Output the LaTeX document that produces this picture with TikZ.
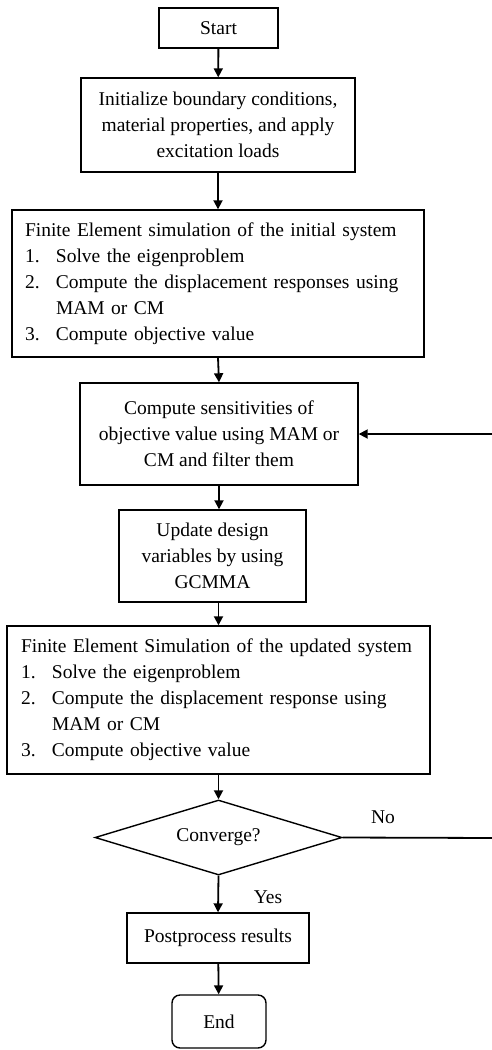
\documentclass[tikz,border=0pt]{standalone}
\usepackage{fontspec}
\setmainfont{Liberation Serif}
\usetikzlibrary{arrows.meta,shapes.geometric}
\tikzset{
  box/.style={draw, line width=1.4pt, inner sep=0pt, align=center},
  listbox/.style={draw, line width=1.4pt, inner xsep=13pt, inner ysep=0pt, align=left},
  flow/.style={line width=1.8pt, -{Triangle[length=9pt,width=9pt]}},
  lbl/.style={inner sep=0pt},
}
\newcommand{\itm}[1]{\makebox[31pt][l]{#1}}
\begin{document}
\begin{tikzpicture}[x=1pt,y=-1pt,font=\fontsize{19.5}{26}\selectfont]
\useasboundingbox (0,0) rectangle (492,1050);
\node[box, minimum width=119pt, minimum height=40pt] (start) at (218.5,28) {Start};
\node[box, minimum width=274pt, minimum height=94pt] (init) at (218,125)
  {Initialize boundary conditions,\\ material properties, and apply\\ excitation loads};
\node[listbox, text width=386pt, minimum height=147pt] (fe1) at (218,283.5)
  {Finite Element simulation of the initial system\\
   \itm{1.}Solve the eigenproblem\\
   \itm{2.}Compute the displacement responses using\\
   \itm{}MAM or CM\\
   \itm{3.}Compute objective value};
\node[box, minimum width=278pt, minimum height=102pt] (sens) at (219,434)
  {Compute sensitivities of\\ objective value using MAM or\\ CM and filter them};
\node[box, minimum width=187pt, minimum height=92pt] (upd) at (212.5,556)
  {Update design\\ variables by using\\ GCMMA};
\node[listbox, inner xsep=14pt, text width=395pt, minimum height=148pt] (fe2) at (218.5,700)
  {Finite Element Simulation of the updated system\\
   \itm{1.}Solve the eigenproblem\\
   \itm{2.}Compute the displacement response using\\
   \itm{}MAM or CM\\
   \itm{3.}Compute objective value};
\node[draw, line width=1.4pt, diamond, aspect=3.3, minimum width=247pt, minimum height=75pt, inner sep=0pt] (conv) at (218.5,837.5) {Converge?};
\node[box, minimum width=182pt, minimum height=50pt] (post) at (218,938) {Postprocess results};
\node[box, rounded corners=8pt, minimum width=94pt, minimum height=53pt] (end) at (219,1021.5) {End};
\node[lbl] (no) at (383,817) {No};
\node[lbl] (yes) at (268,897) {Yes};
\coordinate (loop) at (498,838);
\draw[flow] (start) -- (init);
\draw[flow] (init) -- (fe1);
\draw[flow] (fe1.south) -- (sens.north);
\draw[flow] (sens.south) -- (sens.south |- upd.north);
\draw[flow] (upd.south -| fe2.south) -- (fe2.north);
\draw[flow] (fe2.south) -- (conv.north);
\draw[flow] (conv.south) -- (post.north);
\draw[flow] (post) -- (end);
\draw[flow] (conv.east) -- (loop) |- (sens.east);
\end{tikzpicture}
\end{document}
